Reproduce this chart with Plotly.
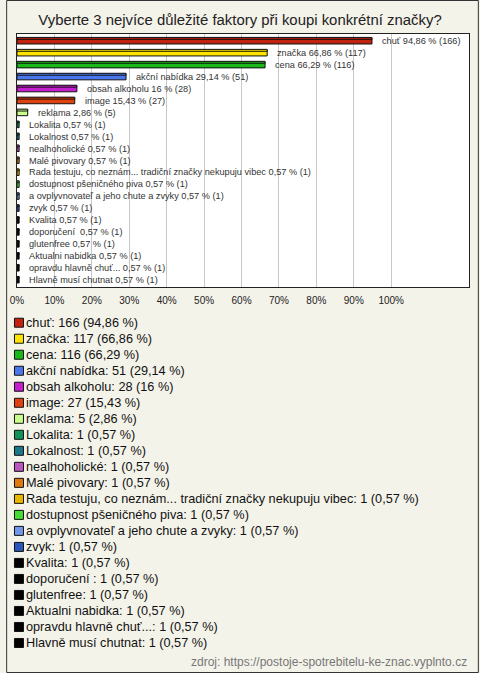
import plotly.graph_objects as go

categories = [
    "chuť", "značka", "cena", "akční nabídka", "obsah alkoholu", "image", "reklama",
    "Lokalita", "Lokalnost", "nealhoholické", "Malé pivovary",
    "Rada testuju, co neznám... tradiční značky nekupuju vibec",
    "dostupnost pšeničného piva", "a ovplyvnovateľ a jeho chute a zvyky", "zvyk",
    "Kvalita", "doporučení ", "glutenfree", "Aktualni nabidka",
    "opravdu hlavně chuť...", "Hlavně musí chutnat",
]
counts = [166, 117, 116, 51, 28, 27, 5] + [1] * 14
percents = [94.86, 66.86, 66.29, 29.14, 16, 15.43, 2.86] + [0.57] * 14
colors = [
    "#c1230f", "#ffe400", "#19b919", "#4a78ec", "#c41ecf", "#e0420f", "#c8ff8c",
    "#10925a", "#18788a", "#bb55c0", "#e07810", "#e8b800", "#44dd33", "#6f98e8",
    "#2a55bb", "#000000", "#000000", "#000000", "#000000", "#000000", "#000000",
]
x_ticks = list(range(0, 101, 10))
x_tick_labels = [f"{t}%" for t in x_ticks]

title = "Vyberte 3 nejvíce důležité faktory při koupi konkrétní značky?"
source = "zdroj: https://postoje-spotrebitelu-ke-znac.vyplnto.cz"


def fmt(v):
    s = f"{v:.2f}".rstrip("0").rstrip(".")
    return s.replace(".", ",")


bar_labels = [f"{c} {fmt(p)} % ({n})" for c, p, n in zip(categories, percents, counts)]
legend_labels = [f"{c}: {n} ({fmt(p)} %)" for c, p, n in zip(categories, percents, counts)]

W, H = 480, 673
ML, MR, MT, MB = 11, 10, 34, 22
pw = W - ML - MR
ph = H - MT - MB
plot_bottom = 287
legend_top = 314.7

FONT = "Arial, Liberation Sans, sans-serif"
BG = "#f4f3ea"

fig = go.Figure()

# main bar body
fig.add_trace(go.Bar(
    x=percents, y=categories, orientation="h",
    marker=dict(color=colors, line=dict(color="#111111", width=1)),
    width=0.5, showlegend=False, hoverinfo="skip",
    xaxis="x", yaxis="y",
))
# thin top face for the 3D look
fig.add_trace(go.Bar(
    x=percents, y=categories, orientation="h",
    marker=dict(color=colors, line=dict(color="#111111", width=1)),
    width=0.16, offset=-0.3, showlegend=False, hoverinfo="skip",
    xaxis="x", yaxis="y",
))
fig.update_layout(barmode="overlay")

annotations = []
for c, p, lab in zip(categories, percents, bar_labels):
    annotations.append(dict(
        x=p, y=c, xref="x", yref="y", text=lab, showarrow=False,
        xanchor="left", yanchor="middle", xshift=8,
        font=dict(family=FONT, size=9.2, color="#333333"),
    ))

# legend: markers + labels on their own (hidden) axes, in pixel-like units
fig.add_trace(go.Scatter(
    x=[2] * len(categories), y=list(range(len(categories))),
    mode="markers",
    marker=dict(symbol="square", size=9, color=colors, line=dict(color="#111111", width=1)),
    showlegend=False, hoverinfo="skip", cliponaxis=False,
    xaxis="x2", yaxis="y2",
))
for i, lab in enumerate(legend_labels):
    annotations.append(dict(
        x=7.5, y=i, xref="x2", yref="y2", text=lab, showarrow=False,
        xanchor="left", yanchor="middle",
        font=dict(family=FONT, size=12.7, color="#111111"),
    ))

annotations.append(dict(
    text=source, xref="paper", yref="paper",
    x=(470 - ML) / pw, y=(H - MB - 662) / ph,
    xanchor="right", yanchor="middle", showarrow=False,
    font=dict(family=FONT, size=12, color="#777777"),
))

fig.update_layout(
    width=W, height=H,
    margin=dict(l=ML, r=MR, t=MT, b=MB),
    paper_bgcolor=BG,
    plot_bgcolor=BG,
    title=dict(text=title, x=0.5, xanchor="center", y=1 - 20 / H, yanchor="middle",
               font=dict(family=FONT, size=14.9, color="#222222")),
    xaxis=dict(
        range=[0, 100 * pw / 380], tickvals=x_ticks, ticktext=x_tick_labels,
        showgrid=True, gridcolor="#c8c8c8", gridwidth=1, zeroline=False,
        showline=True, linecolor="#222222", linewidth=1, mirror=True,
        ticks="outside", ticklen=4, tickcolor="rgba(0,0,0,0)",
        tickfont=dict(family=FONT, size=10, color="#222222"),
        anchor="y", fixedrange=True,
    ),
    yaxis=dict(
        domain=[(H - MB - plot_bottom) / ph, 1],
        categoryorder="array", categoryarray=categories, autorange="reversed",
        showticklabels=False, ticks="", showgrid=False, zeroline=False,
        showline=True, linecolor="#222222", linewidth=1, mirror=True,
        anchor="x", fixedrange=True,
    ),
    xaxis2=dict(range=[0, pw], visible=False, showgrid=False, zeroline=False,
                anchor="y2", domain=[0, 1], fixedrange=True),
    yaxis2=dict(range=[20.5, -0.5], visible=False, showgrid=False, zeroline=False,
                anchor="x2", domain=[0, (H - MB - legend_top) / ph], fixedrange=True),
    shapes=[
        dict(type="rect", xref="x domain", yref="y domain", x0=0, x1=1, y0=0, y1=1,
             line=dict(width=0), fillcolor="#ffffff", layer="below"),
        dict(type="rect", xref="paper", yref="paper",
             x0=(0.5 - ML) / pw, x1=(W - 0.5 - ML) / pw,
             y0=(H - MB - (H - 0.5)) / ph, y1=(H - MB - 0.5) / ph,
             line=dict(color="#333333", width=1), fillcolor="rgba(0,0,0,0)", layer="above"),
    ],
    annotations=annotations,
)

fig.write_html(
    "out.html",
    config={"displayModeBar": False, "staticPlot": True},
    post_script="document.body.style.margin='0';document.body.style.overflow='hidden';",
)
